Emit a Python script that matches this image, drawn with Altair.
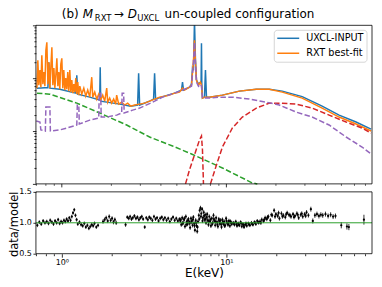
import altair as alt
import pandas as pd

# ---------------- data ----------------
# top panel: E (keV), flux (arbitrary units, log axis without labels)
uxcl_input = [
    (0.706, 0.0647), (0.789, 0.0660), (0.823, 0.0660), (0.834, 0.200), (0.846, 0.0647),
    (0.972, 0.0619), (1.216, 0.0521), (1.233, 0.114), (1.250, 0.0499), (1.478, 0.0438),
    (1.699, 0.0385), (1.711, 0.161), (1.723, 0.0368), (2.245, 0.0323), (2.620, 0.0296),
    (2.888, 0.0310), (2.929, 0.124), (2.970, 0.0310), (3.415, 0.0368), (3.611, 0.0402),
    (3.662, 0.124), (3.713, 0.0402), (4.209, 0.0457), (4.838, 0.0521), (5.337, 0.0594),
    (5.412, 0.0841), (5.488, 0.0594), (5.967, 0.0676), (6.136, 0.0771), (6.222, 0.155),
    (6.310, 0.142), (6.399, 1.24), (6.488, 0.219), (6.580, 0.0917), (6.766, 0.0771),
    (6.958, 0.0841), (7.020, 0.0841), (7.056, 0.457), (7.090, 0.0800), (7.155, 0.0420),
    (7.358, 0.0438), (7.461, 0.142), (7.566, 0.0438), (7.889, 0.0438), (9.458, 0.0478),
    (11.99, 0.0569), (15.20, 0.0619), (18.23, 0.0619), (21.85, 0.0569), (28.88, 0.0448),
    (38.17, 0.0296), (48.40, 0.0200), (61.36, 0.0148), (75.66, 0.0109),
]
rxt_bestfit = [
    (0.706, 0.0647), (0.715, 0.219), (0.725, 0.0738), (0.736, 0.142), (0.746, 0.0676),
    (0.756, 0.272), (0.767, 0.0771), (0.778, 0.130), (0.789, 0.0706), (0.800, 0.337),
    (0.811, 0.478), (0.823, 0.0771), (0.834, 0.200), (0.846, 0.0647), (0.858, 0.168),
    (0.870, 0.385), (0.882, 0.0738), (0.895, 0.155), (0.907, 0.0647), (0.920, 0.114),
    (0.933, 0.238), (0.946, 0.0706), (0.959, 0.130), (0.972, 0.0619), (0.986, 0.184),
    (1.000, 0.238), (1.014, 0.0647), (1.028, 0.142), (1.043, 0.0594), (1.057, 0.100),
    (1.072, 0.0619), (1.087, 0.130), (1.102, 0.0569), (1.118, 0.142), (1.134, 0.0545),
    (1.150, 0.0917), (1.166, 0.0521), (1.182, 0.0771), (1.199, 0.0545), (1.216, 0.100),
    (1.233, 0.0499), (1.250, 0.0841), (1.268, 0.0478), (1.286, 0.0706), (1.322, 0.0499),
    (1.360, 0.0647), (1.398, 0.0457), (1.437, 0.0594), (1.478, 0.0438), (1.520, 0.1045),
    (1.541, 0.0438), (1.585, 0.0545), (1.630, 0.0402), (1.676, 0.0499), (1.723, 0.0385),
    (1.772, 0.0478), (1.822, 0.0368), (1.874, 0.0647), (1.900, 0.0352), (1.953, 0.0420),
    (2.008, 0.0337), (2.065, 0.0402), (2.124, 0.0323), (2.154, 0.0478), (2.215, 0.0323),
    (2.310, 0.0352), (2.409, 0.0310), (2.512, 0.0337), (2.620, 0.0296), (2.770, 0.0310),
    (2.970, 0.0323), (3.185, 0.0337), (3.415, 0.0368), (3.662, 0.0402), (3.926, 0.0438),
    (4.209, 0.0457), (4.512, 0.0478), (4.838, 0.0521), (5.190, 0.0545), (5.412, 0.0647),
    (5.566, 0.0594), (5.967, 0.0676), (6.136, 0.0738), (6.310, 0.219), (6.399, 0.521),
    (6.488, 0.200), (6.580, 0.0917), (6.766, 0.0738), (6.958, 0.0841), (7.056, 0.0738),
    (7.155, 0.0420), (7.358, 0.0438), (7.889, 0.0438), (9.458, 0.0478), (11.99, 0.0569),
    (15.20, 0.0619), (18.23, 0.0619), (21.85, 0.0545), (28.88, 0.0420), (38.17, 0.0272),
    (48.40, 0.0184), (61.36, 0.0136), (75.66, 0.0100),
]
reflection = [
    (0.700, 0.0155), (0.736, 0.0148), (0.746, 0.0105), (0.794, 0.0100), (0.800, 0.0284),
    (0.846, 0.0284), (0.852, 0.0100), (0.972, 0.0105), (1.072, 0.0114), (1.233, 0.0130),
    (1.242, 0.0310), (1.268, 0.0310), (1.277, 0.0136), (1.478, 0.0161), (1.676, 0.0176),
    (1.688, 0.0521), (1.723, 0.0521), (1.735, 0.0184), (1.874, 0.0184), (2.154, 0.0200),
    (2.310, 0.0219), (2.326, 0.0521), (2.375, 0.0521), (2.392, 0.0219), (2.693, 0.0249),
    (2.970, 0.0272), (3.561, 0.0352), (4.094, 0.0438), (4.838, 0.0521), (5.566, 0.0619),
    (6.136, 0.0706), (6.310, 0.200), (6.399, 0.478), (6.488, 0.184), (6.580, 0.0841),
    (6.766, 0.0706), (6.958, 0.0771), (7.056, 0.0706), (7.155, 0.0420), (7.889, 0.0420),
    (9.07, 0.0438), (10.87, 0.0438), (13.79, 0.0402), (17.48, 0.0352), (20.95, 0.0310),
    (26.56, 0.0228), (33.20, 0.0184), (42.09, 0.0130), (53.38, 0.00771), (66.72, 0.00499),
    (75.66, 0.00368),
]
powerlaw = [
    (0.706, 0.0521), (0.846, 0.0499), (1.233, 0.0337), (1.699, 0.0219), (2.477, 0.0130),
    (3.415, 0.0077), (4.708, 0.00521), (6.136, 0.00368), (9.458, 0.0020), (14.38, 0.00104),
    (15.41, 0.0010),
]
fe_line = [
    (5.644, 0.0010), (5.967, 0.00184), (6.399, 0.00352), (6.862, 0.00676), (7.056, 0.00806),
    (7.155, 0.00438), (7.256, 0.0010),
]
compton = [
    (8.00, 0.0010), (8.70, 0.00228), (9.458, 0.00499), (10.87, 0.0114), (12.50, 0.0184),
    (15.20, 0.0272), (18.23, 0.0337), (20.95, 0.0337), (26.56, 0.0323), (33.20, 0.0272),
    (42.09, 0.0200), (53.38, 0.0148), (66.72, 0.0114), (75.66, 0.00916),
]

# bottom panel: (E keV, data/model, error)
ratio_points = [
    (0.71, 0.96, 0.03), (0.73, 1.01, 0.03), (0.75, 0.98, 0.03), (0.77, 1.03, 0.03), (0.79, 1.00, 0.03),
    (0.81, 1.02, 0.03), (0.83, 0.99, 0.03), (0.85, 1.04, 0.03), (0.87, 1.01, 0.03), (0.89, 0.98, 0.03),
    (0.91, 1.03, 0.03), (0.93, 1.00, 0.03), (0.95, 1.05, 0.03), (0.97, 0.99, 0.03), (0.99, 1.02, 0.03),
    (1.01, 1.00, 0.03), (1.03, 1.04, 0.03), (1.05, 1.02, 0.03), (1.07, 1.06, 0.03), (1.09, 1.03, 0.03),
    (1.11, 1.08, 0.03), (1.13, 1.04, 0.03), (1.15, 1.10, 0.03), (1.17, 1.16, 0.03), (1.19, 1.21, 0.03),
    (1.21, 1.12, 0.03), (1.23, 1.05, 0.03), (1.25, 0.98, 0.03), (1.28, 1.01, 0.03), (1.31, 0.97, 0.03),
    (1.34, 0.95, 0.03), (1.37, 0.99, 0.03), (1.40, 0.93, 0.03), (1.43, 0.96, 0.03), (1.46, 0.91, 0.03),
    (1.49, 0.94, 0.03), (1.52, 0.97, 0.03), (1.55, 0.95, 0.03), (1.58, 0.99, 0.03), (1.62, 0.93, 0.03),
    (1.66, 0.96, 0.03),
    (1.78, 1.02, 0.035), (1.82, 1.05, 0.035), (1.86, 1.08, 0.035), (1.90, 1.03, 0.035), (1.94, 1.10, 0.035),
    (1.98, 1.04, 0.035), (2.02, 1.07, 0.035), (2.06, 1.01, 0.035), (2.10, 1.05, 0.035), (2.14, 1.00, 0.035),
    (2.44, 0.97, 0.035),
    (2.50, 1.09, 0.03), (2.55, 1.07, 0.03), (2.60, 1.10, 0.03), (2.65, 1.06, 0.03), (2.70, 1.08, 0.03),
    (2.76, 1.11, 0.03), (2.82, 1.07, 0.03), (2.88, 1.09, 0.03), (2.94, 1.05, 0.03), (3.00, 1.08, 0.03),
    (3.06, 1.10, 0.03), (3.12, 1.06, 0.03), (3.19, 0.93, 0.03), (3.26, 1.08, 0.03), (3.33, 1.05, 0.03),
    (3.40, 1.09, 0.03), (3.47, 1.07, 0.03), (3.55, 1.04, 0.03), (3.63, 1.10, 0.03), (3.71, 1.06, 0.03),
    (3.79, 1.08, 0.03), (3.87, 1.03, 0.03), (3.96, 1.07, 0.03), (4.05, 1.09, 0.03), (4.14, 1.05, 0.03),
    (4.23, 1.08, 0.03), (4.33, 1.04, 0.03), (4.43, 1.07, 0.03), (4.53, 1.02, 0.03), (4.63, 1.06, 0.03),
    (4.74, 1.09, 0.03), (4.85, 1.04, 0.03), (4.96, 1.07, 0.03), (5.07, 1.03, 0.03), (5.18, 1.06, 0.03),
    (5.25, 1.03, 0.035), (5.28, 1.05, 0.035), (5.32, 0.97, 0.035), (5.39, 1.08, 0.035), (5.42, 0.99, 0.035),
    (5.46, 1.00, 0.035), (5.53, 1.05, 0.035), (5.56, 1.07, 0.035), (5.60, 0.94, 0.035), (5.67, 1.10, 0.035),
    (5.70, 0.97, 0.035), (5.74, 1.02, 0.035), (5.81, 0.98, 0.035), (5.84, 1.04, 0.035), (5.88, 1.06, 0.035),
    (5.95, 1.01, 0.035), (5.98, 0.99, 0.035), (6.02, 0.92, 0.035), (6.09, 1.07, 0.035), (6.12, 1.01, 0.035),
    (6.16, 1.03, 0.035), (6.23, 0.96, 0.035), (6.26, 1.05, 0.035), (6.30, 1.09, 0.035), (6.37, 0.99, 0.035),
    (6.40, 0.95, 0.035), (6.44, 0.88, 0.035), (6.51, 1.04, 0.035), (6.54, 1.00, 0.035), (6.58, 0.95, 0.035),
    (6.65, 0.86, 0.035), (6.68, 0.93, 0.035), (6.72, 1.02, 0.035), (6.80, 1.12, 0.035), (6.84, 1.06, 0.035),
    (6.88, 1.20, 0.035), (6.96, 1.24, 0.035), (7.00, 1.10, 0.035), (7.04, 1.15, 0.035), (7.12, 1.22, 0.035),
    (7.16, 1.03, 0.035), (7.20, 1.08, 0.035), (7.28, 1.17, 0.035), (7.32, 1.11, 0.035), (7.36, 1.05, 0.035),
    (7.44, 1.13, 0.035), (7.48, 1.06, 0.035), (7.52, 1.00, 0.035), (7.60, 1.09, 0.035), (7.64, 1.14, 0.035),
    (7.69, 1.04, 0.035), (7.78, 0.97, 0.035), (7.82, 1.03, 0.035), (7.87, 1.10, 0.035), (7.96, 1.02, 0.035),
    (8.00, 1.05, 0.035), (8.05, 0.95, 0.035), (8.15, 1.07, 0.035), (8.20, 0.98, 0.035), (8.25, 1.00, 0.035),
    (8.35, 1.12, 0.035), (8.40, 1.06, 0.035), (8.45, 1.03, 0.035), (8.55, 0.96, 0.035), (8.60, 1.02, 0.035),
    (8.66, 1.08, 0.035), (8.77, 1.01, 0.035), (8.82, 0.97, 0.035), (8.88, 0.94, 0.035), (8.99, 1.06, 0.035),
    (9.04, 1.03, 0.035), (9.10, 0.99, 0.035), (9.22, 1.04, 0.035), (9.28, 0.98, 0.035), (9.34, 0.93, 0.035),
    (9.46, 1.05, 0.035), (9.52, 1.01, 0.035), (9.58, 0.98, 0.035), (9.70, 1.02, 0.035), (9.76, 0.95, 0.035),
    (9.83, 0.96, 0.035), (9.96, 1.07, 0.035), (10.02, 1.03, 0.035), (10.09, 1.00, 0.035), (10.22, 0.97, 0.035),
    (10.29, 0.99, 0.035), (10.36, 1.03, 0.035), (10.50, 0.95, 0.035), (10.57, 1.02, 0.035), (10.64, 1.01, 0.035),
    (10.78, 0.98, 0.035),
    (11.0, 1.00, 0.03), (11.1, 0.99, 0.03), (11.2, 0.97, 0.03), (11.4, 1.02, 0.03), (11.5, 0.98, 0.03),
    (11.6, 0.95, 0.03), (11.8, 0.99, 0.03), (11.9, 0.97, 0.03), (12.0, 0.96, 0.03), (12.2, 1.01, 0.03),
    (12.3, 0.99, 0.03), (12.4, 0.94, 0.03), (12.6, 0.98, 0.03), (12.7, 0.96, 0.03), (12.8, 0.93, 0.03),
    (13.0, 0.97, 0.03), (13.15, 0.99, 0.03), (13.3, 0.95, 0.03), (13.6, 0.99, 0.03), (13.75, 0.97, 0.03),
    (13.9, 0.96, 0.03), (14.2, 1.00, 0.03), (14.35, 0.98, 0.03), (14.5, 0.97, 0.03), (14.8, 1.01, 0.03),
    (14.95, 1.00, 0.03), (15.1, 0.98, 0.03), (15.4, 1.03, 0.03), (15.55, 1.01, 0.03), (15.7, 1.00, 0.03),
    (16.0, 1.02, 0.035), (16.2, 1.00, 0.035), (16.4, 1.05, 0.035), (16.8, 1.03, 0.035), (17.0, 1.05, 0.035),
    (17.2, 1.08, 0.035), (17.6, 1.06, 0.035), (17.8, 1.09, 0.035), (18.0, 1.10, 0.035), (18.5, 1.04, 0.035),
    (18.75, 1.13, 0.035), (19.0, 1.12, 0.035), (19.5, 1.20, 0.035), (19.75, 1.10, 0.035), (20.0, 1.14, 0.035),
    (20.5, 1.11, 0.035), (20.75, 1.16, 0.035), (21.0, 1.07, 0.035), (21.6, 1.15, 0.035), (21.9, 1.10, 0.035),
    (22.2, 1.12, 0.035), (22.8, 1.09, 0.035), (23.1, 1.14, 0.035), (23.4, 1.16, 0.035), (24.0, 1.13, 0.035),
    (24.35, 1.12, 0.035), (24.7, 1.10, 0.035), (25.4, 1.14, 0.035), (25.75, 1.09, 0.035), (26.1, 1.11, 0.035),
    (26.8, 1.15, 0.035), (27.15, 1.13, 0.035), (27.5, 1.08, 0.035), (28.3, 1.13, 0.035), (28.7, 1.15, 0.035),
    (29.1, 1.10, 0.035), (29.9, 1.14, 0.035), (30.3, 1.11, 0.035), (30.7, 1.17, 0.035), (31.5, 1.12, 0.035),
    (32.6, 1.22, 0.04), (33.5, 1.03, 0.04), (34.5, 1.12, 0.04), (35.5, 1.14, 0.04), (36.5, 1.11, 0.04),
    (37.5, 1.13, 0.04), (38.5, 1.12, 0.04), (40.0, 1.14, 0.04), (41.5, 1.11, 0.04), (43.0, 1.13, 0.04),
    (44.5, 1.10, 0.04), (46.0, 1.11, 0.04), (49.9, 0.96, 0.05), (54.0, 0.94, 0.05), (55.5, 0.93, 0.05),
    (68.5, 1.05, 0.08),
]

x_tick_values = [0.7, 0.8, 0.9, 1, 2, 3, 4, 5, 6, 7, 8, 9, 10, 20, 30, 40, 50, 60, 70]
x_major_ticks = [1, 10]
x_minor_ticks = [0.7, 0.8, 0.9, 2, 3, 4, 5, 6, 7, 8, 9, 20, 30, 40, 50, 60, 70]
top_y_ticks = [0.001, 0.002, 0.003, 0.004, 0.005, 0.006, 0.007, 0.008, 0.009,
               0.01, 0.02, 0.03, 0.04, 0.05, 0.06, 0.07, 0.08, 0.09,
               0.1, 0.2, 0.3, 0.4, 0.5, 0.6, 0.7, 0.8, 0.9, 1.0]
ratio_ticks = [0.5, 1.0, 1.5]
unity = [1.0]

E_DOMAIN = [0.696, 76.7]
F_DOMAIN = [0.001, 1.0]
R_DOMAIN = [0.5, 1.5]

# ---------------- layout (pixels) ----------------
W = 337
TOP_H = 159
BOT_TOP = 167
H = 229
FONT = "DejaVu Sans"
BLUE, ORANGE, GREEN, RED, PURPLE = "#1f77b4", "#ff7f0e", "#2ca02c", "#d62728", "#9467bd"
DASH = [5.5, 2.4]
TITLE_Y = -7
SUB_Y = -4.5


def xy(pairs):
    return pd.DataFrame(pairs, columns=["E", "F"])


one = pd.DataFrame({"k": [0]})

x_scale = alt.Scale(type="log", domain=E_DOMAIN, nice=False)
x_axis = alt.Axis(
    orient="bottom", values=x_tick_values,
    labelExpr="datum.value == 1 ? '10⁰' : (datum.value == 10 ? '10¹' : '')",
    tickSize={"condition": {"test": "datum.value == 1 || datum.value == 10", "value": 3.5}, "value": 2},
    labelFontSize=8, labelPadding=1.5, title="E(keV)", titleFontSize=12,
    titleFontWeight="normal", titleY=22.5, titleBaseline="alphabetic",
    domain=False, grid=False,
)
x_enc = alt.X("E:Q", scale=x_scale, axis=x_axis)

top_scale = alt.Scale(type="log", domain=F_DOMAIN, range=[TOP_H, 0], nice=False)
top_axis = alt.Axis(
    orient="left", values=top_y_ticks, labels=False, title=None, domain=False, grid=False,
    tickSize={"condition": {"test": "datum.value == 0.001 || datum.value == 0.01 || datum.value == 0.1 || datum.value == 1",
                            "value": 3.5}, "value": 2},
)
y_top = alt.Y("F:Q", scale=top_scale, axis=top_axis)

bot_scale = alt.Scale(domain=R_DOMAIN, range=[H, BOT_TOP], nice=False, zero=False)
bot_axis = alt.Axis(
    orient="left", values=ratio_ticks, format=".1f", labelFontSize=8, tickSize=3, labelPadding=1.5,
    title="data/model", titleFontSize=11.5, titleFontWeight="normal", domain=False, grid=False,
    titleX=-27, titleY=199, titleBaseline="top", titleAlign="center", titleAngle=-90,
)


def spec_line(pairs, color, dashed=False):
    kw = dict(color=color, strokeWidth=1.5, clip=True)
    if dashed:
        kw["strokeDash"] = DASH
    return alt.Chart(xy(pairs)).mark_line(**kw).encode(x=x_enc, y=y_top)


frame_top = alt.Chart(one).mark_rect(fillOpacity=0, stroke="black", strokeWidth=0.8).encode(
    x=alt.value(0), x2=alt.value(W), y=alt.value(0), y2=alt.value(TOP_H))
frame_bot = alt.Chart(one).mark_rect(fillOpacity=0, stroke="black", strokeWidth=0.8).encode(
    x=alt.value(0), x2=alt.value(W), y=alt.value(BOT_TOP), y2=alt.value(H))

ticks_major = alt.Chart(pd.DataFrame({"E": x_major_ticks})).mark_rule(color="black", strokeWidth=0.8).encode(
    x=x_enc, y=alt.value(TOP_H), y2=alt.value(TOP_H + 3.5))
ticks_minor = alt.Chart(pd.DataFrame({"E": x_minor_ticks})).mark_rule(color="black", strokeWidth=0.6).encode(
    x=x_enc, y=alt.value(TOP_H), y2=alt.value(TOP_H + 2))


def txt(s, x, y, size=12, style="normal"):
    return alt.Chart(one).mark_text(text=s, font=FONT, fontSize=size, fontStyle=style, align="left",
                                    baseline="alphabetic", color="black").encode(
        x=alt.value(x), y=alt.value(y))


title = [
    txt("(b)", 26, TITLE_Y),
    txt("M", 47, TITLE_Y, style="italic"),
    txt("RXT", 59, SUB_Y, size=8.5),
    txt("→", 78, TITLE_Y),
    txt("D", 92, TITLE_Y, style="italic"),
    txt("UXCL", 101.5, SUB_Y, size=8.5),
    txt("un-coupled configuration", 129, TITLE_Y),
]

legend_box = alt.Chart(one).mark_rect(fill="white", fillOpacity=0.85, stroke="#cccccc", strokeWidth=0.8,
                                      cornerRadius=3).encode(
    x=alt.value(239), x2=alt.value(332), y=alt.value(5), y2=alt.value(37))
leg_b = alt.Chart(one).mark_rule(color=BLUE, strokeWidth=1.5).encode(
    x=alt.value(242), x2=alt.value(264), y=alt.value(13))
leg_o = alt.Chart(one).mark_rule(color=ORANGE, strokeWidth=1.5).encode(
    x=alt.value(242), x2=alt.value(264), y=alt.value(28))
leg_tb = alt.Chart(one).mark_text(text="UXCL-INPUT", font=FONT, fontSize=9.7, align="left", baseline="middle",
                                  color="black").encode(x=alt.value(271), y=alt.value(13))
leg_to = alt.Chart(one).mark_text(text="RXT best-fit", font=FONT, fontSize=9.7, align="left", baseline="middle",
                                  color="black").encode(x=alt.value(271), y=alt.value(28))

top = alt.layer(
    spec_line(uxcl_input, BLUE),
    spec_line(rxt_bestfit, ORANGE),
    spec_line(powerlaw, GREEN, True),
    spec_line(fe_line, RED, True),
    spec_line(compton, RED, True),
    spec_line(reflection, PURPLE, True),
    frame_top, ticks_major, ticks_minor,
    legend_box, leg_b, leg_o, leg_tb, leg_to,
    *title,
)

rdf = pd.DataFrame(ratio_points, columns=["E", "r", "err"])
rdf["lo"] = rdf["r"] - rdf["err"]
rdf["hi"] = rdf["r"] + rdf["err"]

errbars = alt.Chart(rdf).mark_rule(color="black", strokeWidth=0.8).encode(
    x=x_enc, y=alt.Y("lo:Q", scale=bot_scale, axis=bot_axis), y2="hi:Q")
pts = alt.Chart(rdf).mark_circle(color="black", size=5, opacity=1).encode(
    x=x_enc, y=alt.Y("r:Q", scale=bot_scale, axis=bot_axis))
unit_line = alt.Chart(pd.DataFrame({"r": unity})).mark_rule(color=GREEN, strokeWidth=1).encode(
    y=alt.Y("r:Q", scale=bot_scale, axis=bot_axis))

bottom = alt.layer(errbars, pts, unit_line, frame_bot)

chart = alt.layer(top, bottom).resolve_scale(y="independent").properties(
    width=W, height=H,
    autosize=alt.AutoSizeParams(type="none"),
    padding={"left": 28, "top": 17, "right": 2, "bottom": 25},
).configure_view(stroke=None).configure_axis(
    labelFont=FONT, titleFont=FONT, labelColor="black", titleColor="black",
    tickColor="black", tickWidth=0.8,
)

chart.save("out.html", embed_options={"renderer": "svg", "actions": False})
